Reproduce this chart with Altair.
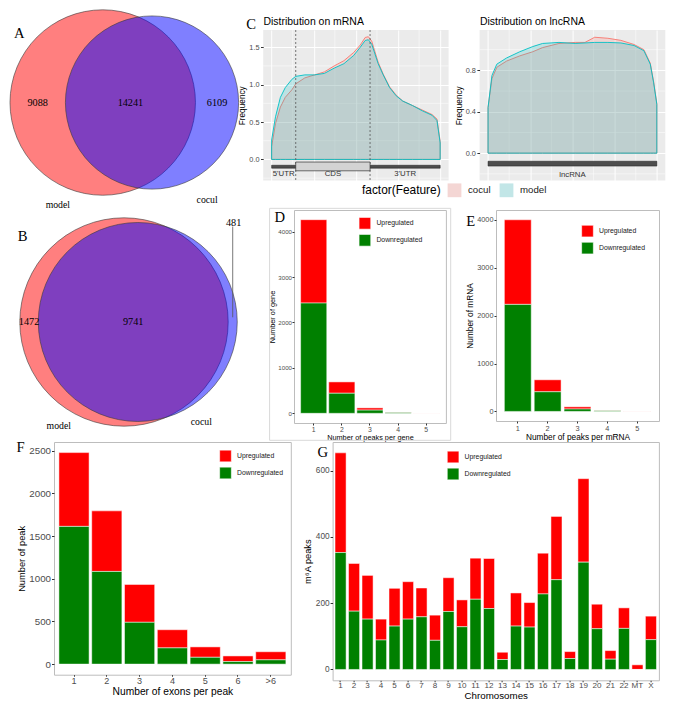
import math
import altair as alt
import pandas as pd

S = 0.976
SANS = "Liberation Sans"
SERIF = "Liberation Serif"
REG = ["Upregulated", "Downregulated"]

# ---------------- data ----------------
venn_sets = ["model", "cocul"]
venn_a_counts = [9088, 14241, 6109]   # model only, shared, cocul only
venn_b_counts = [1472, 9741, 481]

feature_groups = ["cocul", "model"]
mrna_pos = [0.0, 0.023, 0.052, 0.081, 0.120, 0.143, 0.197, 0.255, 0.313, 0.371, 0.429, 0.487, 0.526,
            0.555, 0.574, 0.594, 0.613, 0.632, 0.662, 0.700, 0.739, 0.778, 0.836, 0.894, 0.952, 0.981, 1.0]
mrna_model = [0.26, 0.57, 0.83, 0.96, 1.07, 1.11, 1.13, 1.13, 1.15, 1.22, 1.28, 1.39, 1.50,
              1.59, 1.60, 1.54, 1.41, 1.28, 1.13, 0.96, 0.85, 0.78, 0.72, 0.65, 0.59, 0.52, 0.22]
mrna_cocul = [0.17, 0.48, 0.70, 0.83, 0.93, 1.01, 1.09, 1.13, 1.17, 1.25, 1.32, 1.43, 1.53,
              1.63, 1.64, 1.58, 1.44, 1.30, 1.14, 0.97, 0.86, 0.78, 0.72, 0.66, 0.60, 0.54, 0.24]
mrna_parts = ["5'UTR", "CDS", "3'UTR"]
mrna_edges = [0.0, 0.143, 0.584, 1.0]
mrna_yticks = [0.0, 0.5, 1.0, 1.5]
mrna_yminor = [-0.25, 0.25, 0.75, 1.25]

lnc_pos = [0.0, 0.023, 0.052, 0.110, 0.188, 0.265, 0.323, 0.420, 0.516, 0.574, 0.632, 0.710,
           0.787, 0.865, 0.923, 0.961, 0.981, 1.0]
lnc_model = [0.44, 0.75, 0.86, 0.92, 0.98, 1.03, 1.06, 1.07, 1.06, 1.065, 1.07, 1.07,
             1.065, 1.04, 0.99, 0.86, 0.68, 0.47]
lnc_cocul = [0.44, 0.72, 0.83, 0.89, 0.94, 0.98, 1.02, 1.06, 1.07, 1.07, 1.12, 1.11,
             1.09, 1.05, 1.00, 0.87, 0.69, 0.48]
lnc_parts = ["lncRNA"]
lnc_edges = [0.0, 1.0]
lnc_yticks = [0.0, 0.4, 0.8]
lnc_yminor = [-0.2, 0.2, 0.6, 1.0]

x_major = [0.0, 0.25, 0.5, 0.75, 1.0]
x_minor = [0.125, 0.375, 0.625, 0.875]

gene_peaks = ["1", "2", "3", "4", "5"]
gene_up = [1836, 250, 49, 8, 3]
gene_down = [2428, 442, 71, 17, 0]

mrna_peaks = ["1", "2", "3", "4", "5"]
mrna_up = [1766, 250, 46, 6, 3]
mrna_down = [2234, 410, 50, 14, 0]

exon_bins = ["1", "2", "3", "4", "5", "6", ">6"]
exon_up = [865, 710, 444, 213, 122, 66, 95]
exon_down = [1614, 1086, 490, 190, 80, 30, 50]

chromosomes = ["1", "2", "3", "4", "5", "6", "7", "8", "9", "10", "11", "12", "13", "14", "15",
               "16", "17", "18", "19", "20", "21", "22", "MT", "X"]
chrom_up = [301, 144, 132, 63, 114, 113, 87, 76, 102, 81, 124, 151, 22, 100, 74, 123, 191, 21,
            252, 74, 26, 62, 14, 71]
chrom_down = [353, 176, 152, 89, 131, 152, 159, 88, 175, 129, 212, 184, 30, 131, 128, 228, 271,
              33, 324, 123, 31, 124, 0, 90]


# ---------------- Venn helpers ----------------
def lens_area(r1, r2, d):
    if d >= r1 + r2:
        return 0.0
    if d <= abs(r1 - r2):
        return math.pi * min(r1, r2) ** 2
    a1 = r1 * r1 * math.acos((d * d + r1 * r1 - r2 * r2) / (2 * d * r1))
    a2 = r2 * r2 * math.acos((d * d + r2 * r2 - r1 * r1) / (2 * d * r2))
    a3 = 0.5 * math.sqrt((-d + r1 + r2) * (d + r1 - r2) * (d - r1 + r2) * (d + r1 + r2))
    return a1 + a2 - a3


def venn_geometry(counts):
    only1, both, only2 = counts
    r1 = math.sqrt((only1 + both) / math.pi)
    r2 = math.sqrt((only2 + both) / math.pi)
    lo, hi = abs(r1 - r2) + 1e-9, r1 + r2
    for _ in range(200):
        mid = (lo + hi) / 2
        if lens_area(r1, r2, mid) > both:
            lo = mid
        else:
            hi = mid
    return r1, r2, (lo + hi) / 2


def venn_panel(counts, k, x_off, y_off, h_px, letter, letter_rel, set_rel, leader):
    r1, r2, d = venn_geometry(counts)
    left, right = -r1, d + r2
    ov_l, ov_r = max(-r1, d - r2), min(r1, d + r2)
    lx = [(left + ov_l) / 2, (ov_l + ov_r) / 2, (ov_r + right) / 2]
    ly = [0.0, 0.0, 0.0]
    W = x_off + (right - left) * k
    x0 = -r1 - x_off / k
    y0 = -r1 - y_off / k
    xs = alt.Scale(domain=[x0, x0 + W / k], nice=False, zero=False)
    ys = alt.Scale(domain=[y0, y0 + h_px / k], nice=False, zero=False, reverse=True)
    rs = alt.Scale(type="linear", zero=True, domain=[0, 100], range=[0, 100 * k])
    layers = []
    for name, cx, r, col in ((venn_sets[0], 0.0, r1, "#FF0000"), (venn_sets[1], d, r2, "#0000FF")):
        layers.append(alt.Chart(pd.DataFrame({"s": [name], "cx": [cx], "cy": [0.0], "r": [r]})).mark_arc(
            theta=0, theta2=2 * math.pi, fill=col, fillOpacity=0.5, stroke="#3A3A3A",
            strokeWidth=0.6).encode(
            x=alt.X("cx:Q", scale=xs, axis=None), y=alt.Y("cy:Q", scale=ys, axis=None),
            radius=alt.Radius("r:Q", scale=rs)))
    if leader:
        layers.append(alt.Chart(pd.DataFrame({"x": [lx[2]], "y1": [-0.916 * r1], "y2": [-0.045 * r1]})).mark_rule(
            color="#555555", strokeWidth=0.8).encode(
            x=alt.X("x:Q", scale=xs, axis=None), y=alt.Y("y1:Q", scale=ys, axis=None), y2="y2:Q"))
        lx[2] = lx[2] + 0.5
        ly[2] = -0.949 * r1
    cdf = pd.DataFrame({"x": lx, "y": ly, "t": [str(c) for c in counts]})
    sdf = pd.DataFrame({"x": [p[0] * r1 for p in set_rel], "y": [p[1] * r1 for p in set_rel],
                        "t": venn_sets})
    ldf = pd.DataFrame({"x": [letter_rel[0] * r1], "y": [letter_rel[1] * r1], "t": [letter]})
    for tdf, fs in ((cdf, 10.5 * S), (sdf, 10 * S), (ldf, 15 * S)):
        layers.append(alt.Chart(tdf).mark_text(font=SERIF, fontSize=fs, color="#000000").encode(
            x=alt.X("x:Q", scale=xs, axis=None), y=alt.Y("y:Q", scale=ys, axis=None), text="t:N"))
    return alt.layer(*layers).properties(
        width=W, height=h_px, view=alt.ViewBackground(fill=None, stroke=None))


# ---------------- density panels ----------------
def density_panel(pos, model, cocul, ydom, yticks, yminor, title, letter, parts, edges, cds,
                  w, h, legend):
    n = len(pos)
    df = pd.DataFrame({"pos": pos + pos, "freq": model + cocul,
                       "grp": ["model"] * n + ["cocul"] * n})
    xs = alt.Scale(domain=[-0.05, 1.05], nice=False, zero=False)
    ys = alt.Scale(domain=ydom, nice=False, zero=False)
    line_scale = alt.Scale(domain=feature_groups, range=["#F8766D", "#00BFC4"])
    xaxis = alt.Axis(values=x_major, labels=False, ticks=False, domain=False, title=None,
                     grid=True, gridColor="white", gridWidth=1)
    yaxis = alt.Axis(values=yticks, format=".1f", title="Frequency", grid=True, gridColor="white",
                     gridWidth=1, labelFontSize=7.5 * S, titleFontSize=8.5 * S, tickSize=2.7,
                     labelPadding=1.5, titlePadding=2)

    def X(f):
        return alt.X(f, scale=xs, axis=xaxis)

    def Y(f):
        return alt.Y(f, scale=ys, axis=yaxis)

    layers = [
        alt.Chart(pd.DataFrame({"v": x_minor})).mark_rule(color="white", strokeWidth=0.5).encode(
            x=X("v:Q")),
        alt.Chart(pd.DataFrame({"v": yminor})).mark_rule(color="white", strokeWidth=0.5).encode(
            y=Y("v:Q")),
    ]
    for g in feature_groups:
        layers.append(alt.Chart(df).transform_filter(alt.datum.grp == g).mark_area(
            fillOpacity=0.2, strokeWidth=0.9).encode(
            x=X("pos:Q"), y=Y("freq:Q"),
            fill=alt.Fill("grp:N", scale=line_scale, legend=None),
            stroke=alt.Stroke("grp:N", scale=line_scale, legend=None)))
    if cds:
        layers.append(alt.Chart(pd.DataFrame({"e": edges[1:-1]})).mark_rule(
            color="#555555", strokeWidth=0.8, strokeDash=[2, 2]).encode(x=X("e:Q")))
        track = pd.DataFrame({"s": [edges[0]], "e": [edges[-1]], "y1": [-0.078], "y2": [-0.117]})
        layers.append(alt.Chart(track).mark_rect(
            fill="#4D4D4D", stroke="#1A1A1A", strokeWidth=0.5).encode(
            x=X("s:Q"), x2="e:Q", y=Y("y1:Q"), y2="y2:Q"))
        box = pd.DataFrame({"s": [edges[1]], "e": [edges[2]], "y1": [-0.035], "y2": [-0.152]})
        layers.append(alt.Chart(box).mark_rect(
            fill="#D3D3D3", stroke="#333333", strokeWidth=0.7).encode(
            x=X("s:Q"), x2="e:Q", y=Y("y1:Q"), y2="y2:Q"))
        label_y = -0.2
    else:
        track = pd.DataFrame({"s": [edges[0]], "e": [edges[-1]], "y1": [-0.078], "y2": [-0.125]})
        layers.append(alt.Chart(track).mark_rect(
            fill="#4D4D4D", stroke="#1A1A1A", strokeWidth=0.5).encode(
            x=X("s:Q"), x2="e:Q", y=Y("y1:Q"), y2="y2:Q"))
        label_y = -0.21
    mids = [(edges[i] + edges[i + 1]) / 2 for i in range(len(parts))]
    layers.append(alt.Chart(pd.DataFrame({"m": mids, "ly": [label_y] * len(parts), "t": parts})).mark_text(
        fontSize=8 * S, color="#333333", font=SANS).encode(
        x=X("m:Q"), y=Y("ly:Q"), text="t:N"))
    # panel title and letter drawn as text marks
    layers.append(alt.Chart(pd.DataFrame({"t": [title]})).mark_text(
        font=SANS, fontSize=10.7 * S, align="left", baseline="middle", color="#000000").encode(
        text="t:N", x=alt.value(0.3), y=alt.value(-8.5)))
    if letter:
        layers.append(alt.Chart(pd.DataFrame({"t": [letter]})).mark_text(
            font=SERIF, fontSize=15 * S, align="center", baseline="alphabetic").encode(
            text="t:N", x=alt.value(-12.2), y=alt.value(-0.7)))
    if legend:
        leg = alt.Legend(title="factor(Feature)", orient="none", legendX=352, legendY=152.5,
                         direction="horizontal", titleOrient="left", titleFontSize=12.2 * S,
                         titleFontWeight="normal", titleColor="#000000", titleFont=SANS,
                         labelFontSize=9.9 * S, labelFont=SANS, labelColor="#1A1A1A",
                         symbolType="square", symbolSize=190, symbolStrokeWidth=1.2,
                         columnPadding=8, titlePadding=6, labelOffset=6, padding=0)
        layers.append(alt.Chart(df).transform_filter("false").mark_point(
            shape="square", filled=True, opacity=1).encode(
            color=alt.Color("grp:N", scale=alt.Scale(domain=feature_groups,
                                                     range=["#F4D6D4", "#C2E6E7"]), legend=leg),
            stroke=alt.Stroke("grp:N", scale=line_scale, legend=leg)))
    return alt.layer(*layers).properties(
        width=w, height=h, view=alt.ViewBackground(fill="#EBEBEB", stroke=None))


# ---------------- stacked bar panels ----------------
def bar_panel(cats, up, down, ydom, yticks, ytitle, xtitle, w, h, p_in, p_out, leg_xy,
              letter, letter_xy, lab_fs, xlab_fs, ytitle_fs, xtitle_fs, leg_fs, xtick, xlpad,
              xtpad, ytick, ylpad, ytpad, frame=None):
    n = len(cats)
    df = pd.DataFrame({"cat": cats + cats, "reg": [REG[0]] * n + [REG[1]] * n,
                       "val": up + down, "o": [1] * n + [0] * n})
    bars = alt.Chart(df).mark_bar(stroke="white", strokeWidth=0.5).encode(
        x=alt.X("cat:N", sort=cats, scale=alt.Scale(paddingInner=p_in, paddingOuter=p_out),
                axis=alt.Axis(title=xtitle, labelAngle=0, labelFontSize=xlab_fs,
                              titleFontSize=xtitle_fs, tickSize=xtick, labelPadding=xlpad,
                              titlePadding=xtpad)),
        y=alt.Y("val:Q", stack="zero", scale=alt.Scale(domain=ydom, nice=False, zero=False),
                axis=alt.Axis(title=ytitle, values=yticks, format="d", labelFontSize=lab_fs,
                              titleFontSize=ytitle_fs, tickSize=ytick, grid=False,
                              labelPadding=ylpad, titlePadding=ytpad)),
        color=alt.Color("reg:N", scale=alt.Scale(domain=REG, range=["#FF0000", "#008000"]),
                        legend=alt.Legend(title=None, orient="none", legendX=leg_xy[0],
                                          legendY=leg_xy[1], symbolType="square",
                                          symbolSize=137, symbolStrokeWidth=0.6,
                                          labelFontSize=leg_fs, labelFont=SANS,
                                          labelColor="#1A1A1A", rowPadding=2, labelOffset=5,
                                          padding=0)),
        order=alt.Order("o:Q", sort="ascending"))
    let = alt.Chart(pd.DataFrame({"t": [letter]})).mark_text(
        font=SERIF, fontSize=15 * S, align="center", baseline="alphabetic").encode(
        text="t:N", x=alt.value(letter_xy[0]), y=alt.value(letter_xy[1]))
    layers = [bars, let]
    if frame:
        layers.append(alt.Chart(pd.DataFrame({"f": [0]})).mark_rect(
            filled=False, stroke="#D9D9D9", strokeWidth=1).encode(
            x=alt.value(frame[0]), x2=alt.value(frame[1]),
            y=alt.value(frame[2]), y2=alt.value(frame[3])))
    return alt.layer(*layers).properties(
        width=w, height=h, view=alt.ViewBackground(fill="white", stroke="#BDBDBD", strokeWidth=1))


venn_a = venn_panel(venn_a_counts, 1.076, 0.0, -20.2, 160, "A", (-0.90, -0.742),
                    [(-0.484, 1.10), (1.126, 1.047)], False)
venn_b = venn_panel(venn_b_counts, 1.744, 9.8, 7.8, 200, "B", (-0.972, -0.813),
                    [(-0.626, 0.995), (0.742, 0.957)], True)

c_mrna = density_panel(mrna_pos, mrna_model, mrna_cocul, [-0.283, 1.73], mrna_yticks, mrna_yminor,
                       "Distribution on mRNA", "C", mrna_parts, mrna_edges, True, 185.4, 150.6, True)
c_lnc = density_panel(lnc_pos, lnc_model, lnc_cocul, [-0.265, 1.19], lnc_yticks, lnc_yminor,
                      "Distribution on lncRNA", None, lnc_parts, lnc_edges, False, 185.7, 150.6, False)

d_chart = bar_panel(gene_peaks, gene_up, gene_down, [-213, 4477], [0, 1000, 2000, 3000, 4000],
                    "Number of gene", "Number of peaks per gene", 151.9, 213, 0.07, 0.235,
                    (64.4, 6.8), "D", (-14.2, 11.7), 6.3 * S, 7 * S, 7.5 * S, 7.5 * S, 7 * S,
                    2.0, 1, 1, 2.0, 0.5, 1.5, frame=(-24.4, 156.7, -1.66, 230.3))
e_chart = bar_panel(mrna_peaks, mrna_up, mrna_down, [-200, 4204], [0, 1000, 2000, 3000, 4000],
                    "Number of mRNA", "Number of peaks per mRNA", 163, 211, 0.1, 0.28,
                    (85, 14.6), "E", (-25.4, 15.6), 7.5 * S, 7.5 * S, 8.5 * S, 8.5 * S, 7 * S,
                    2.0, 1, 1, 2.0, 1, 2)
f_chart = bar_panel(exon_bins, exon_up, exon_down, [-124, 2603], [0, 500, 1000, 1500, 2000, 2500],
                    "Number of peak", "Number of exons per peak", 236.8, 232.7, 0.08, 0.15,
                    (165, 7.5), "F", (-33.4, 10.4), 10 * S, 9.3 * S, 9.5 * S, 10.5 * S, 7 * S,
                    1.5, 0, 1, 2.5, 1, 2)
g_chart = bar_panel(chromosomes, chrom_up, chrom_down, [-32.7, 686.7], [0, 200, 400, 600],
                    "m\u2076A peaks", "Chromosomes", 326.3, 238.3, 0.18, 0.18,
                    (114, 8.5), "G", (-9.8, 15.3), 8.5 * S, 8.3 * S, 9.5 * S, 10 * S, 7 * S,
                    1.5, 0, 1, 2.5, 1, 3)

# empty cell that only reserves the left margin of the last row
margin_cell = alt.Chart(pd.DataFrame({"t": [""]})).mark_text().encode(text="t:N").properties(
    width=5.5, height=10, view=alt.ViewBackground(fill=None, stroke=None))

row1 = alt.hconcat(venn_a, alt.hconcat(c_mrna, c_lnc, spacing=4.4), spacing=-2.8)
row2 = alt.hconcat(
    venn_b,
    alt.hconcat(d_chart, e_chart, spacing=13).resolve_scale(color="independent"),
    spacing=25).resolve_scale(color="independent")
row3 = alt.hconcat(
    margin_cell,
    alt.hconcat(f_chart, g_chart, spacing=10.6).resolve_scale(color="independent"),
    spacing=0).resolve_scale(color="independent")

top_rows = alt.vconcat(row1, row2, spacing=-5.6).resolve_scale(color="independent")
chart = alt.vconcat(top_rows, row3, spacing=-3, padding=0).resolve_scale(
    color="independent"
).configure(font=SANS).configure_view(stroke=None).configure_axis(
    labelFont=SANS, titleFont=SANS, labelColor="#4D4D4D", tickColor="#333333",
    titleColor="#000000", titleFontWeight="normal", domain=False
).configure_legend(labelFont=SANS, titleFont=SANS)

chart.save("out.html", embed_options={"renderer": "svg", "actions": False})
